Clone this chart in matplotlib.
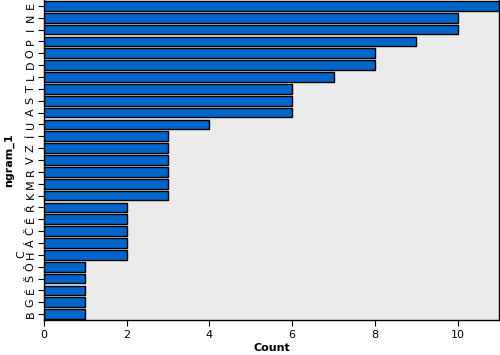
import numpy as np
import matplotlib.pyplot as plt

# ngram counts, top to bottom as in the chart
letters = ["E", "N", "I", "P", "O", "D", "L", "T", "S", "A", "U",
           "Í", "Z", "V", "R", "M", "K",
           "Ř", "Ě", "Č", "Á", "C\nH",
           "Ô", "Š", "É", "G", "B"]
counts = [11, 10, 10, 9, 8, 8, 7, 6, 6, 6, 4,
          3, 3, 3, 3, 3, 3,
          2, 2, 2, 2, 2,
          1, 1, 1, 1, 1]

plt.rcParams['font.family'] = ['DejaVu Sans']

fig = plt.figure(figsize=(5, 3.55), dpi=100)
ax = fig.add_axes([0.088, 0.0986, 0.91, 0.9014])
ax.set_facecolor("#EBEBEB")

pos = np.arange(len(letters))
ax.barh(pos, counts, height=0.82, color="#0066CC", edgecolor="black", linewidth=1)

ax.set_ylim(len(letters) - 0.5, -0.5)
ax.set_xlim(0, 11)
ax.set_yticks(pos)
ax.set_yticklabels(letters, rotation=90, va="center", fontsize=8, linespacing=0.9)
ax.set_xticks([0, 2, 4, 6, 8, 10])
ax.tick_params(axis="x", labelsize=8, length=4)
ax.tick_params(axis="y", length=4, pad=2)

for s in ["top"]:
    ax.spines[s].set_visible(False)
for s in ["left", "bottom", "right"]:
    ax.spines[s].set_linewidth(1)

ax.set_xlabel("Count", fontsize=8, fontweight="bold", labelpad=2)
ax.set_ylabel("ngram_1", fontsize=8, fontweight="bold", labelpad=2)

fig.savefig("out.png", dpi=100)
